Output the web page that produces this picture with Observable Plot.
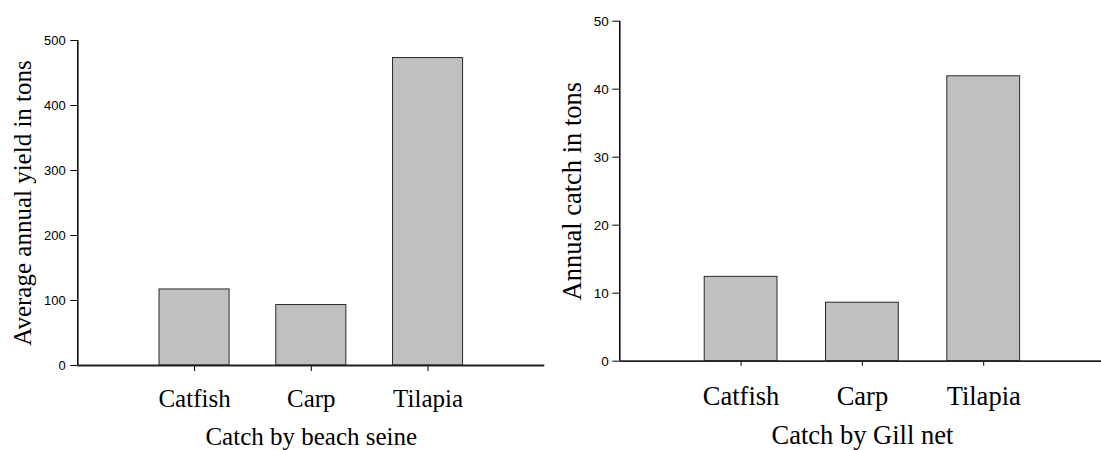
<!DOCTYPE html>
<html>
<head>
<meta charset="utf-8">
<script src="https://cdn.jsdelivr.net/npm/d3@7"></script>
<script src="https://cdn.jsdelivr.net/npm/@observablehq/plot@0.6"></script>
<style>
  html, body { margin: 0; padding: 0; background: #fff; overflow: hidden; }
  #wrap { position: relative; width: 1101px; height: 450px; overflow: hidden; }
  #left, #right { position: absolute; top: 0; height: 450px; }
  #left { left: 0; width: 555px; }
  #right { left: 555px; width: 560px; }
  #wrap svg { overflow: visible; max-width: none !important; }
</style>
</head>
<body>
<div id="wrap"><div id="left"></div><div id="right"></div></div>
<script>
const categories = ["Catfish", "Carp", "Tilapia"];
const beachSeineYield = [117, 93, 473];
const gillNetCatch = [12.4, 8.6, 41.9];
const seineTicks = [0, 100, 200, 300, 400, 500];
const gillTicks = [0, 10, 20, 30, 40, 50];
const seineTitle = "Catch by beach seine";
const gillTitle = "Catch by Gill net";
const seineYLabel = "Average annual yield in tons";
const gillYLabel = "Annual catch in tons";

const serif = "'Liberation Serif', 'Times New Roman', serif";
const sans = "'Liberation Sans', Arial, sans-serif";

function makeChart(values, yTicks, xTitle, yTitle, o) {
  const data = categories.map((c, i) => ({category: c, pos: i + 1, value: values[i]}));
  return Plot.plot({
    width: o.width,
    height: 450,
    marginLeft: o.ml,
    marginRight: o.mr,
    marginTop: o.mt,
    marginBottom: o.mb,
    style: {background: "transparent", color: "#000", overflow: "visible", maxWidth: "none"},
    x: {domain: [0, 4]},
    y: {domain: [yTicks[0], yTicks[yTicks.length - 1]]},
    marks: [
      Plot.rectY(data, {
        x1: d => d.pos - 0.3,
        x2: d => d.pos + 0.3,
        y1: 0,
        y2: "value",
        fill: "#c0c0c0",
        stroke: "#2a2a2a",
        strokeWidth: 1
      }),
      Plot.axisY({
        ticks: yTicks,
        tickSize: o.yTickSize,
        tickPadding: o.yTickPad,
        fontSize: o.yTickFont,
        fontFamily: sans,
        stroke: "#000",
        label: null
      }),
      Plot.axisY({
        ticks: [],
        tickSize: 0,
        label: yTitle,
        labelAnchor: "center",
        labelOffset: o.yLabelOffset,
        fontSize: o.titleFont,
        fontFamily: serif,
        labelArrow: "none"
      }),
      Plot.axisX({
        ticks: [1, 2, 3],
        tickFormat: d => categories[d - 1],
        tickSize: o.xTickSize,
        tickPadding: o.xTickPad,
        fontSize: o.titleFont,
        fontFamily: serif,
        stroke: "#000",
        label: xTitle,
        labelAnchor: "center",
        labelOffset: o.xLabelOffset,
        labelArrow: "none"
      }),
      Plot.ruleX([0], {stroke: "#000", strokeWidth: 1.5}),
      Plot.ruleY([0], {stroke: "#222", strokeWidth: 1.8})
    ]
  });
}

document.getElementById("left").append(makeChart(beachSeineYield, seineTicks, seineTitle, seineYLabel, {
  width: 555, ml: 77.3, mr: 10.7, mt: 40, mb: 85,
  yTickSize: 7, yTickPad: 5, yTickFont: 13,
  xTickSize: 6, xTickPad: 18, titleFont: 25,
  yLabelOffset: 65, xLabelOffset: 79
}));

document.getElementById("right").append(makeChart(gillNetCatch, gillTicks, gillTitle, gillYLabel, {
  width: 560, ml: 64.3, mr: 10.5, mt: 20.7, mb: 89.3,
  yTickSize: 7, yTickPad: 4, yTickFont: 13.5,
  xTickSize: 5, xTickPad: 20, titleFont: 26.5,
  yLabelOffset: 58, xLabelOffset: 83
}));
</script>
</body>
</html>
